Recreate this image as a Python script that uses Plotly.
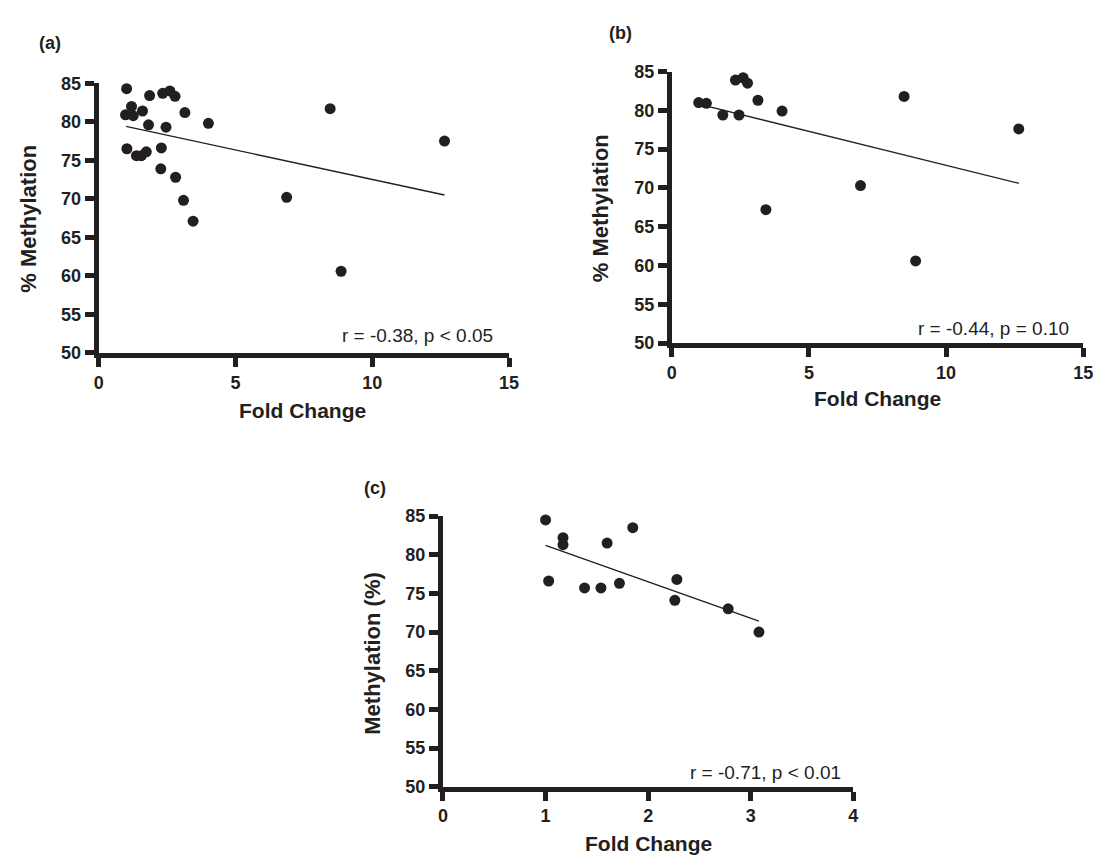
import plotly.graph_objects as go

# Panel (a)
a_fold = [1.02, 1.86, 2.34, 2.60, 2.79, 1.20, 0.98, 1.26, 1.60, 3.15, 1.82, 2.46, 4.01,
          8.46, 12.64, 1.03, 1.38, 1.56, 1.74, 2.29, 2.27, 2.81, 3.10, 3.45, 6.87, 8.86]
a_meth = [84.3, 83.4, 83.7, 84.0, 83.3, 82.0, 80.9, 80.8, 81.4, 81.2, 79.6, 79.3, 79.8,
          81.7, 77.5, 76.5, 75.6, 75.6, 76.1, 76.6, 73.9, 72.8, 69.8, 67.1, 70.2, 60.6]
a_fit_x = [1.0, 12.64]
a_fit_y = [79.4, 70.5]

# Panel (b)
b_fold = [0.98, 1.26, 1.86, 2.45, 2.32, 2.60, 2.76, 3.14, 4.02, 3.43, 6.88, 8.47, 8.89, 12.65]
b_meth = [81.0, 80.9, 79.4, 79.4, 83.9, 84.2, 83.5, 81.3, 79.9, 67.2, 70.3, 81.8, 60.6, 77.6]
b_fit_x = [0.98, 12.65]
b_fit_y = [80.8, 70.6]

# Panel (c)
c_fold = [1.00, 1.17, 1.17, 1.03, 1.38, 1.54, 1.72, 1.60, 1.85, 2.28, 2.26, 2.78, 3.08]
c_meth = [84.5, 82.2, 81.3, 76.6, 75.7, 75.7, 76.3, 81.5, 83.5, 76.8, 74.1, 73.0, 70.0]
c_fit_x = [1.0, 3.08]
c_fit_y = [81.2, 71.4]

y_ticks = [50, 55, 60, 65, 70, 75, 80, 85]
ab_x_ticks = [0, 5, 10, 15]
c_x_ticks = [0, 1, 2, 3, 4]

W, H = 1106, 867
INK = "#231f20"
FONT = "Liberation Sans, Arial, sans-serif"

def px_x(v):
    return v / W

def px_y(v):
    return 1 - v / H

fig = go.Figure()

panels = [
    ("", a_fold, a_meth, a_fit_x, a_fit_y),
    ("2", b_fold, b_meth, b_fit_x, b_fit_y),
    ("3", c_fold, c_meth, c_fit_x, c_fit_y),
]
for suf, xs, ys, fx, fy in panels:
    fig.add_trace(go.Scatter(x=xs, y=ys, mode="markers", xaxis="x" + suf, yaxis="y" + suf,
                             marker=dict(size=11, color=INK), showlegend=False,
                             cliponaxis=False))
    fig.add_trace(go.Scatter(x=fx, y=fy, mode="lines", xaxis="x" + suf, yaxis="y" + suf,
                             line=dict(color=INK, width=1.4), showlegend=False))

def axis_common():
    return dict(showline=True, linecolor=INK, linewidth=5, mirror=False,
                ticks="outside", ticklen=9, tickwidth=5, tickcolor=INK,
                showgrid=False, zeroline=False,
                tickfont=dict(family=FONT, size=18, color=INK, weight="bold"))

# domains in pixels
dom = {
    "a": dict(x0=95, x1=511, y0=75, y1=351),
    "b": dict(x0=676, x1=1093, y0=63, y1=341),
    "c": dict(x0=444, x1=860, y0=518, y1=795),
}

layout = dict(width=W, height=H, margin=dict(l=0, r=0, t=0, b=0),
              paper_bgcolor="white", plot_bgcolor="white", showlegend=False,
              hovermode=False)

for key, suf, xt, xr in [("a", "", ab_x_ticks, [0, 15]), ("b", "2", ab_x_ticks, [0, 15]),
                         ("c", "3", c_x_ticks, [0, 4])]:
    d = dom[key]
    xa = axis_common()
    xa.update(domain=[px_x(d["x0"]), px_x(d["x1"])], range=xr, tickvals=xt,
              anchor="y" + suf)
    ya = axis_common()
    ya.update(domain=[px_y(d["y1"]), px_y(d["y0"])], range=[50, 85], tickvals=y_ticks,
              anchor="x" + suf)
    layout["xaxis" + suf] = xa
    layout["yaxis" + suf] = ya

fig.update_layout(**layout)

ann = []
def lab(text, x, y, size, bold=True, angle=0, xanchor="center"):
    ann.append(dict(text=text, x=px_x(x), y=px_y(y), xref="paper", yref="paper",
                    showarrow=False, textangle=angle, xanchor=xanchor, yanchor="middle",
                    font=dict(family=FONT, size=size, color=INK,
                              weight="bold" if bold else "normal")))

lab("(a)", 46, 34, 18)
lab("(b)", 624, 24, 18)
lab("(c)", 375, 489, 18)
lab("% Methylation", 23, 214, 22, angle=-90)
lab("% Methylation", 603, 203, 22, angle=-90)
lab("Methylation (%)", 373, 658, 22, angle=-90)
lab("Fold Change", 302, 410, 21)
lab("Fold Change", 884, 398, 21)
lab("Fold Change", 652, 853, 21)
lab("r = -0.38, p < 0.05", 497, 333, 19, bold=False, xanchor="right")
lab("r = -0.44, p = 0.10", 1081, 326, 19, bold=False, xanchor="right")
lab("r = -0.71, p < 0.01", 850, 780, 19, bold=False, xanchor="right")
fig.update_layout(annotations=ann)

fig.write_html("out.html", config={"displayModeBar": False, "staticPlot": True},
               post_script="document.body.style.margin='0';document.body.style.overflow='hidden';")
